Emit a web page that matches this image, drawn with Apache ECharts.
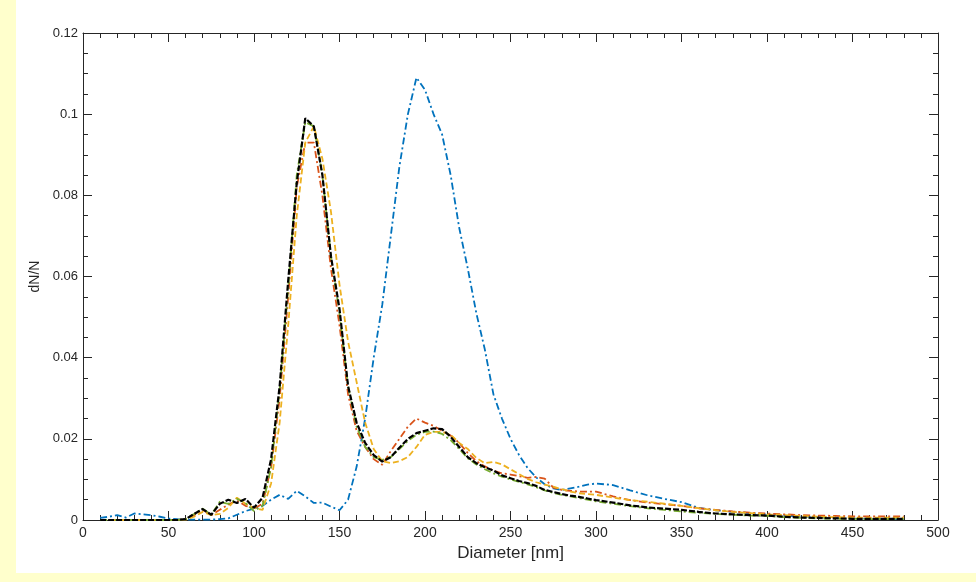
<!DOCTYPE html>
<html>
<head>
<meta charset="utf-8">
<script src="https://cdn.jsdelivr.net/npm/echarts@6/dist/echarts.min.js"></script>
<style>
html,body{margin:0;padding:0;background:#FFFFCC;width:976px;height:582px;overflow:hidden;}
#chart{position:absolute;left:16px;top:0;width:960px;height:573px;background:#ffffff;}
</style>
</head>
<body>
<div id="chart"></div>
<script>
const diameter = [10,15,20,25,30,35,40,45,50,55,
  60,65,70,75,80,85,90,95,100,105,
  110,115,120,125,130,135,140,145,150,155,
  160,165,170,175,180,185,190,195,200,205,
  210,215,220,225,230,235,240,245,250,255,
  260,265,270,275,280,285,290,295,300,
  310,320,330,340,350,360,370,380,390,400,410,420,430,440,450,460,470,480];

const blueSeries = [0.0005,0.0008,0.0012,0.0006,0.0016,0.0014,0.0012,0.0008,0.0004,0.0002,
  0.0001,0.0001,0.0001,0.0001,0.0002,0.0004,0.0013,0.0022,0.0028,0.0035,
  0.005,0.0062,0.0052,0.0072,0.0058,0.0042,0.0043,0.0033,0.0024,0.005,
  0.0131,0.025,0.040,0.053,0.070,0.087,0.100,0.109,0.106,0.100,
  0.095,0.085,0.072,0.062,0.051,0.042,0.031,0.025,0.020,0.016,
  0.0128,0.0105,0.0088,0.0078,0.0074,0.0078,0.0082,0.0087,0.009,
  0.0086,0.0073,0.0061,0.0052,0.0044,0.003,0.0024,0.002,0.0017,0.0014,0.0011,0.0009,0.0007,0.0005,0.0004,0.0003,0.0002,0.0002];

const redSeries = [0,0,0,0,0,0,0,0,0,0,
  0.0002,0.0012,0.0025,0.0012,0.0025,0.0038,0.0048,0.0035,0.0028,0.004,
  0.013,0.03,0.055,0.082,0.093,0.093,0.08,0.062,0.048,0.031,
  0.022,0.018,0.015,0.0136,0.017,0.020,0.023,0.025,0.024,0.0232,
  0.022,0.0208,0.019,0.0165,0.0145,0.0132,0.0122,0.0115,0.0112,0.0108,
  0.0104,0.0106,0.0102,0.008,0.0074,0.0072,0.007,0.007,0.007,
  0.0058,0.0049,0.0043,0.0039,0.0035,0.0029,0.0025,0.0021,0.0018,0.0016,0.0014,0.0012,0.0011,0.001,0.0009,0.0009,0.0009,0.0009];

const yellowSeries = [0,0,0,0,0,0,0,0,0,0,
  0.0001,0.0008,0.002,0.0012,0.0015,0.003,0.0055,0.004,0.003,0.0025,
  0.009,0.024,0.048,0.075,0.093,0.097,0.089,0.076,0.058,0.044,
  0.034,0.024,0.0175,0.0145,0.014,0.0145,0.0155,0.018,0.021,0.0217,
  0.0217,0.021,0.019,0.0175,0.0153,0.014,0.0143,0.0137,0.0125,0.0113,
  0.0101,0.0093,0.0087,0.0082,0.0076,0.007,0.0066,0.0064,0.0062,
  0.0055,0.0049,0.0045,0.004,0.0035,0.0029,0.0024,0.002,0.0017,0.0014,0.0012,0.001,0.0008,0.0007,0.0006,0.0006,0.0006,0.0006];

const greenSeries = [0,0,0,0,0,0,0,0,0,0,
  0.0002,0.0015,0.0028,0.0013,0.0045,0.004,0.0052,0.0042,0.0022,0.0035,
  0.013,0.032,0.057,0.085,0.098,0.097,0.085,0.065,0.051,0.033,
  0.023,0.018,0.0155,0.0148,0.0155,0.0175,0.0195,0.021,0.0217,0.0218,
  0.0212,0.0197,0.0175,0.0152,0.0137,0.0125,0.0115,0.0107,0.0100,0.0094,
  0.0088,0.0081,0.0073,0.0067,0.0062,0.0058,0.0054,0.005,0.0046,
  0.004,0.0034,0.0029,0.0025,0.0021,0.0018,0.0015,0.0013,0.0011,0.001,0.0007,0.0005,0.0004,0.0003,0.0003,0.0002,0.0002,0.0002];

const blackSeries = [0,0,0,0,0,0,0,0,0,0,
  0.0002,0.0015,0.0027,0.0013,0.004,0.005,0.0042,0.0052,0.003,0.0055,
  0.015,0.033,0.059,0.083,0.099,0.097,0.085,0.065,0.052,0.033,
  0.024,0.019,0.016,0.0144,0.0155,0.0178,0.020,0.0214,0.022,0.0226,
  0.0224,0.0205,0.018,0.0155,0.014,0.013,0.0122,0.011,0.0103,0.0096,
  0.0091,0.0084,0.0074,0.0069,0.0064,0.006,0.0057,0.0053,0.0049,
  0.0043,0.0036,0.0031,0.0028,0.0025,0.002,0.0016,0.0014,0.0012,0.0011,0.0008,0.0006,0.0005,0.0004,0.0003,0.0003,0.0003,0.0003];

const xTicks = [0,50,100,150,200,250,300,350,400,450,500];
const yTicks = [0,0.02,0.04,0.06,0.08,0.1,0.12];

const axisColor = '#262626';
const font = 'Liberation Sans, Arial, Helvetica, sans-serif';

function pairs(ys){ return diameter.map((d,i)=>[d, ys[i]]); }

const lineDefs = [
  {name:'S1', data:blueSeries, color:'#0072BD', type:[7,3,2,3], width:1.8},
  {name:'S2', data:redSeries, color:'#D95319', type:[7,3,2,3], width:1.8},
  {name:'S3', data:yellowSeries, color:'#EDB120', type:[6,3], width:1.8},
  {name:'S4', data:greenSeries, color:'#77AC30', type:[7,3,2,3], width:1.8},
  {name:'S5', data:blackSeries, color:'#000000', type:[6,2], width:2.2}
];

function baseAxis(extra){
  return Object.assign({
    type:'value',
    axisLine:{show:true, onZero:false, lineStyle:{color:axisColor, width:1}},
    axisTick:{show:true, inside:true, length:9, lineStyle:{color:axisColor}},
    minorTick:{show:true, splitNumber:5, length:5, lineStyle:{color:axisColor}},
    splitLine:{show:false},
    axisLabel:{color:axisColor, fontFamily:font, fontSize:13}
  }, extra);
}

const chart = echarts.init(document.getElementById('chart'), null, {renderer:'canvas'});
chart.setOption({
  animation:false,
  backgroundColor:'#ffffff',
  grid:{left:67, right:38, top:33, bottom:53, containLabel:false},
  xAxis:[
    baseAxis({min:0, max:500, interval:50, position:'bottom',
      name:'Diameter [nm]', nameLocation:'middle', nameGap:22,
      nameTextStyle:{color:axisColor, fontFamily:font, fontSize:17},
      axisLabel:{color:axisColor, fontFamily:font, fontSize:14, margin:6,
        formatter:v=>xTicks.includes(v)?String(v):''}}),
    baseAxis({min:0, max:500, interval:50, position:'top', axisLabel:{show:false}})
  ],
  yAxis:[
    baseAxis({min:0, max:0.12, interval:0.02, position:'left',
      minorTick:{show:true, splitNumber:4, length:5, lineStyle:{color:axisColor}},
      name:'dN/N', nameLocation:'middle', nameGap:36, nameRotate:90,
      nameTextStyle:{color:axisColor, fontFamily:font, fontSize:14},
      axisLabel:{color:axisColor, fontFamily:font, fontSize:13, margin:5,
        formatter:v=>{const t=yTicks.find(k=>Math.abs(k-v)<1e-9); return t===undefined?'':String(t);}}}),
    baseAxis({min:0, max:0.12, interval:0.02, position:'right',
      minorTick:{show:true, splitNumber:4, length:5, lineStyle:{color:axisColor}},
      axisLabel:{show:false}})
  ],
  series: lineDefs.map(d=>({
    name:d.name, type:'line', xAxisIndex:0, yAxisIndex:0,
    data:pairs(d.data), showSymbol:false, symbol:'none', smooth:false,
    lineStyle:{color:d.color, width:d.width, type:d.type}
  }))
});
</script>
</body>
</html>
